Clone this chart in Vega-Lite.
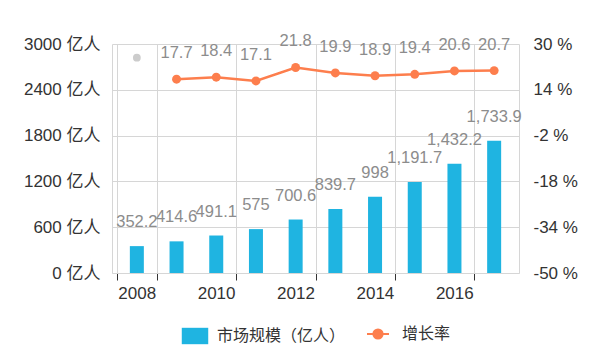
{
  "$schema": "https://vega.github.io/schema/vega-lite/v6.json",
  "width": 407,
  "height": 229,
  "autosize": "none",
  "padding": {"left": 112, "top": 44, "right": 84, "bottom": 87},
  "background": "white",
  "config": {
    "view": {"stroke": null},
    "font": "Liberation Sans, Noto Sans CJK SC",
    "legend": {"layout": {"bottom": {"anchor": "middle", "direction": "horizontal", "margin": 20}}}
  },
  "datasets": {
    "main": [
      {"year": 2008, "size": 352.2, "rate": null},
      {"year": 2009, "size": 414.6, "rate": 17.7},
      {"year": 2010, "size": 491.1, "rate": 18.4},
      {"year": 2011, "size": 575, "rate": 17.1},
      {"year": 2012, "size": 700.6, "rate": 21.8},
      {"year": 2013, "size": 839.7, "rate": 19.9},
      {"year": 2014, "size": 998, "rate": 18.9},
      {"year": 2015, "size": 1191.7, "rate": 19.4},
      {"year": 2016, "size": 1432.2, "rate": 20.6},
      {"year": 2017, "size": 1733.9, "rate": 20.7}
    ],
    "extra": [{"year": 2008, "rate": 25.2}]
  },
  "data": {"name": "main"},
  "encoding": {
    "x": {
      "field": "year",
      "type": "quantitative",
      "scale": {"domain": [2007.5, 2017.5], "nice": false, "zero": false},
      "axis": {
        "title": null,
        "values": [2007.5, 2008.5, 2010.5, 2012.5, 2014.5, 2016.5],
        "labelExpr": "datum.value < 2008 ? '' : format(floor(datum.value), 'd')",
        "labelOffset": -20,
        "labelFlush": false,
        "labelOverlap": false,
        "labelFontSize": 17,
        "labelColor": "#333333",
        "labelPadding": 5,
        "grid": true,
        "gridColor": "#d6d6d6",
        "domainColor": "#d6d6d6",
        "tickColor": "#333333",
        "tickSize": 7
      }
    }
  },
  "layer": [
    {
      "encoding": {
        "y": {
          "field": "size",
          "type": "quantitative",
          "scale": {"domain": [0, 3000], "nice": false},
          "axis": {
            "title": null,
            "orient": "left",
            "values": [0, 600, 1200, 1800, 2400, 3000],
            "labelExpr": "datum.value + ' 亿人'",
            "labelFontSize": 17,
            "labelColor": "#333333",
            "labelPadding": 12,
            "ticks": false,
            "tickSize": 0,
            "grid": true,
            "gridColor": "#d6d6d6",
            "domainColor": "#d6d6d6"
          }
        }
      },
      "layer": [
        {
          "mark": {"type": "bar", "size": 14},
          "encoding": {
            "fill": {
              "datum": "市场规模（亿人）",
              "type": "nominal",
              "scale": {"range": ["#1fb4e1"]},
              "legend": {
                "title": null,
                "orient": "bottom",
                "direction": "horizontal",
                "offset": 21,
                "symbolType": "M-1,-0.62H1V0.62H-1Z",
                "symbolSize": 700,
                "labelFontSize": 16,
                "labelFont": "Noto Sans CJK SC",
                "labelColor": "#333333",
                "labelOffset": 8
              }
            }
          }
        },
        {
          "mark": {"type": "text", "dy": -19, "baseline": "alphabetic", "fontSize": 16.5, "color": "#8c8c8c"},
          "encoding": {"text": {"field": "size", "type": "quantitative", "format": ","}}
        }
      ]
    },
    {
      "encoding": {
        "y": {
          "field": "rate",
          "type": "quantitative",
          "scale": {"domain": [-50, 30], "nice": false, "zero": false},
          "axis": {
            "title": null,
            "orient": "right",
            "values": [-50, -34, -18, -2, 14, 30],
            "labelExpr": "datum.value + ' %'",
            "labelFontSize": 17,
            "labelColor": "#333333",
            "labelPadding": 14,
            "ticks": false,
            "tickSize": 0,
            "grid": false,
            "domainColor": "#d6d6d6"
          }
        }
      },
      "layer": [
        {
          "mark": {"type": "line", "strokeWidth": 2.5},
          "encoding": {
            "stroke": {
              "datum": "增长率",
              "type": "nominal",
              "scale": {"range": ["#fd7e4d"]},
              "legend": {
                "title": null,
                "orient": "bottom",
                "direction": "horizontal",
                "offset": 21,
                "symbolType": "M-1,0H-0.45M0.45,0H1M0.42,0A0.42,0.42,0,1,1,-0.42,0A0.42,0.42,0,1,1,0.42,0Z",
                "symbolSize": 484,
                "symbolStrokeWidth": 2,
                "labelFontSize": 16,
                "labelFont": "Noto Sans CJK SC",
                "labelColor": "#333333",
                "labelOffset": 12,
                "encode": {"symbols": {"update": {"fill": {"value": "#fd7e4d"}, "stroke": {"value": "#fd7e4d"}}}}
              }
            }
          }
        },
        {
          "mark": {"type": "point", "filled": true, "size": 80, "color": "#fd7e4d", "opacity": 1}
        },
        {
          "mark": {"type": "text", "dy": -21, "baseline": "alphabetic", "fontSize": 16.5, "color": "#8c8c8c"},
          "encoding": {"text": {"field": "rate", "type": "quantitative"}}
        },
        {
          "data": {"name": "extra"},
          "mark": {"type": "point", "filled": true, "size": 60, "color": "#cccccc", "opacity": 1}
        }
      ]
    }
  ],
  "resolve": {"scale": {"y": "independent"}}
}
